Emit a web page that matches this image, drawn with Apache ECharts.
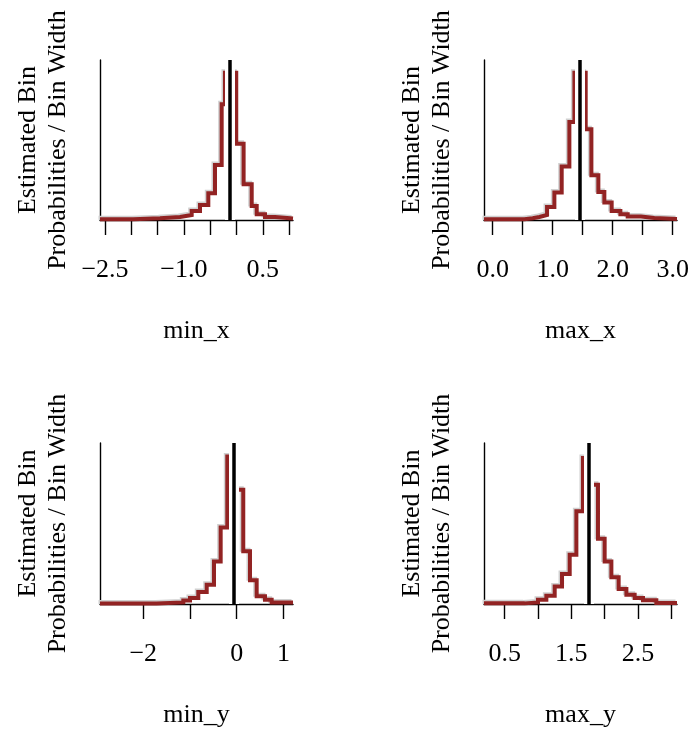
<!DOCTYPE html>
<html><head><meta charset="utf-8">
<script src="https://cdn.jsdelivr.net/npm/echarts@6/dist/echarts.min.js"></script>
<style>html,body{margin:0;padding:0;background:#fff}#c{width:693px;height:734px}</style>
</head><body><div id="c"></div>
<script>
// ---- min_x ----
const minXEdges = [-2.595, -1.962, -1.454, -1.074, -0.852, -0.694, -0.536, -0.409, -0.282, -0.219, -0.005, 0.135, 0.289, 0.384, 0.542, 0.732, 1.074];
const minXDensity = [0.009, 0.023, 0.040, 0.067, 0.121, 0.202, 0.360, 0.742, 1.561, 1.988, 1.031, 0.482, 0.189, 0.077, 0.040, 0.019];
const minXTrue = -0.124;
const minXTicks = [-2.5, -2, -1.5, -1, -0.5, 0, 0.5, 1];
const minXLabelValues = [-2.5, -1, 0.5];
const minXLabels = ['\u22122.5', '\u22121.0', '0.5'];

// ---- max_x ----
const maxXEdges = [-0.145, 0.528, 0.667, 0.778, 0.906, 1.028, 1.150, 1.278, 1.362, 1.550, 1.645, 1.761, 1.861, 1.983, 2.128, 2.250, 2.472, 2.694, 3.072];
const maxXDensity = [0.010, 0.024, 0.043, 0.071, 0.185, 0.391, 0.762, 1.398, 2.101, 1.294, 0.638, 0.399, 0.248, 0.128, 0.081, 0.049, 0.029, 0.014];
const maxXTrue = 1.445;
const maxXTicks = [0, 0.5, 1, 1.5, 2, 2.5, 3];
const maxXLabelValues = [0, 1, 2, 3];
const maxXLabels = ['0.0', '1.0', '2.0', '3.0'];

// ---- min_y ----
const minYEdges = [-2.927, -1.714, -1.143, -1.0, -0.822, -0.642, -0.486, -0.343, -0.201, -0.030, 0.141, 0.285, 0.428, 0.606, 0.749, 1.206];
const minYDensity = [0.007, 0.019, 0.043, 0.072, 0.143, 0.230, 0.508, 0.914, 1.761, 1.364, 0.628, 0.282, 0.091, 0.051, 0.019];
const minYTrue = -0.064;
const minYTicks = [-2, -1, 0, 1];
const minYLabelValues = [-2, 0, 1];
const minYLabels = ['\u22122', '0', '1'];

// ---- max_y ----
const maxYEdges = [0.190, 0.800, 1.0, 1.125, 1.250, 1.360, 1.475, 1.575, 1.674, 1.785, 1.899, 1.999, 2.100, 2.209, 2.325, 2.449, 2.574, 2.774, 3.084];
const maxYDensity = [0.009, 0.023, 0.062, 0.119, 0.252, 0.429, 0.705, 1.325, 2.089, 1.707, 0.934, 0.609, 0.381, 0.215, 0.133, 0.086, 0.052, 0.014];
const maxYTrue = 1.764;
const maxYTicks = [0.5, 1, 1.5, 2, 2.5, 3];
const maxYLabelValues = [0.5, 1.5, 2.5];
const maxYLabels = ['0.5', '1.5', '2.5'];

const yTitle = 'Estimated Bin\nProbabilities / Bin Width';

const panels = [
  {name: 'min_x', edges: minXEdges, dens: minXDensity, truth: minXTrue, ticks: minXTicks, lv: minXLabelValues, lt: minXLabels,
   xMin: -2.595, xMax: 1.074, yMax: 2.16, grid: {left: 100, top: 60, width: 193, height: 160}},
  {name: 'max_x', edges: maxXEdges, dens: maxXDensity, truth: maxXTrue, ticks: maxXTicks, lv: maxXLabelValues, lt: maxXLabels,
   xMin: -0.145, xMax: 3.072, yMax: 2.282, grid: {left: 484, top: 60, width: 193, height: 160}},
  {name: 'min_y', edges: minYEdges, dens: minYDensity, truth: minYTrue, ticks: minYTicks, lv: minYLabelValues, lt: minYLabels,
   xMin: -2.927, xMax: 1.206, yMax: 1.921, grid: {left: 100, top: 443, width: 193, height: 161}},
  {name: 'max_y', edges: maxYEdges, dens: maxYDensity, truth: maxYTrue, ticks: maxYTicks, lv: maxYLabelValues, lt: maxYLabels,
   xMin: 0.190, xMax: 3.084, yMax: 2.303, grid: {left: 484, top: 443, width: 193, height: 161}}
];

const FONT = 'Liberation Serif';
const grids = [], xAxes = [], yAxes = [], series = [];
const noShadow = {shadowColor: 'rgba(0,0,0,0)', shadowBlur: 0, shadowOffsetX: 0, shadowOffsetY: 0};

panels.forEach((p, i) => {
  grids.push(Object.assign({containLabel: false}, p.grid));
  xAxes.push({
    type: 'value', gridIndex: i, min: p.xMin, max: p.xMax,
    name: p.name, nameLocation: 'middle', nameGap: 98,
    nameTextStyle: {fontFamily: FONT, fontSize: 26, color: '#000'},
    axisLine: {show: true, onZero: false, lineStyle: {color: '#000', width: 1.4}},
    axisTick: {show: true, inside: false, length: 15, customValues: p.ticks, lineStyle: {color: '#000', width: 1.4}},
    axisLabel: {show: true, margin: 37, customValues: p.lv, fontFamily: FONT, fontSize: 26, color: '#000',
      formatter: (v) => { const k = p.lv.findIndex(x => Math.abs(x - v) < 1e-9); return k >= 0 ? p.lt[k] : ''; }},
    splitLine: {show: false}
  });
  yAxes.push({
    type: 'value', gridIndex: i, min: 0, max: p.yMax,
    name: yTitle, nameLocation: 'middle', nameGap: 27, nameRotate: 90,
    nameTextStyle: {fontFamily: FONT, fontSize: 26, lineHeight: 30, color: '#000', align: 'center'},
    axisLine: {show: true, onZero: false, lineStyle: {color: '#000', width: 1.4}},
    axisTick: {show: false}, axisLabel: {show: false}, splitLine: {show: false}
  });
  const pts = [];
  for (let k = 0; k < p.dens.length; k++) {
    pts.push([p.edges[k], p.dens[k]]);
    pts.push([p.edges[k + 1], p.dens[k]]);
  }
  series.push({
    type: 'line', xAxisIndex: i, yAxisIndex: i, data: pts, symbol: 'none', silent: true,
    animation: false, clip: true,
    lineStyle: {color: '#922323', width: 4, join: 'miter', cap: 'butt',
      shadowColor: '#d0d0d0', shadowOffsetX: -1.5, shadowOffsetY: -1.5, shadowBlur: 0},
    markLine: {
      silent: true, animation: false, symbol: ['none', 'none'], label: {show: false},
      emphasis: {disabled: true},
      lineStyle: Object.assign({type: 'solid'}, noShadow),
      data: [
        {xAxis: p.truth, lineStyle: Object.assign({color: '#ffffff', width: 10, type: 'solid'}, noShadow)},
        {xAxis: p.truth, lineStyle: Object.assign({color: '#000000', width: 3.5, type: 'solid'}, noShadow)}
      ]
    }
  });
});

const chart = echarts.init(document.getElementById('c'), null, {renderer: 'canvas'});
chart.setOption({
  backgroundColor: '#fff', animation: false,
  grid: grids, xAxis: xAxes, yAxis: yAxes, series: series
});
</script></body></html>
